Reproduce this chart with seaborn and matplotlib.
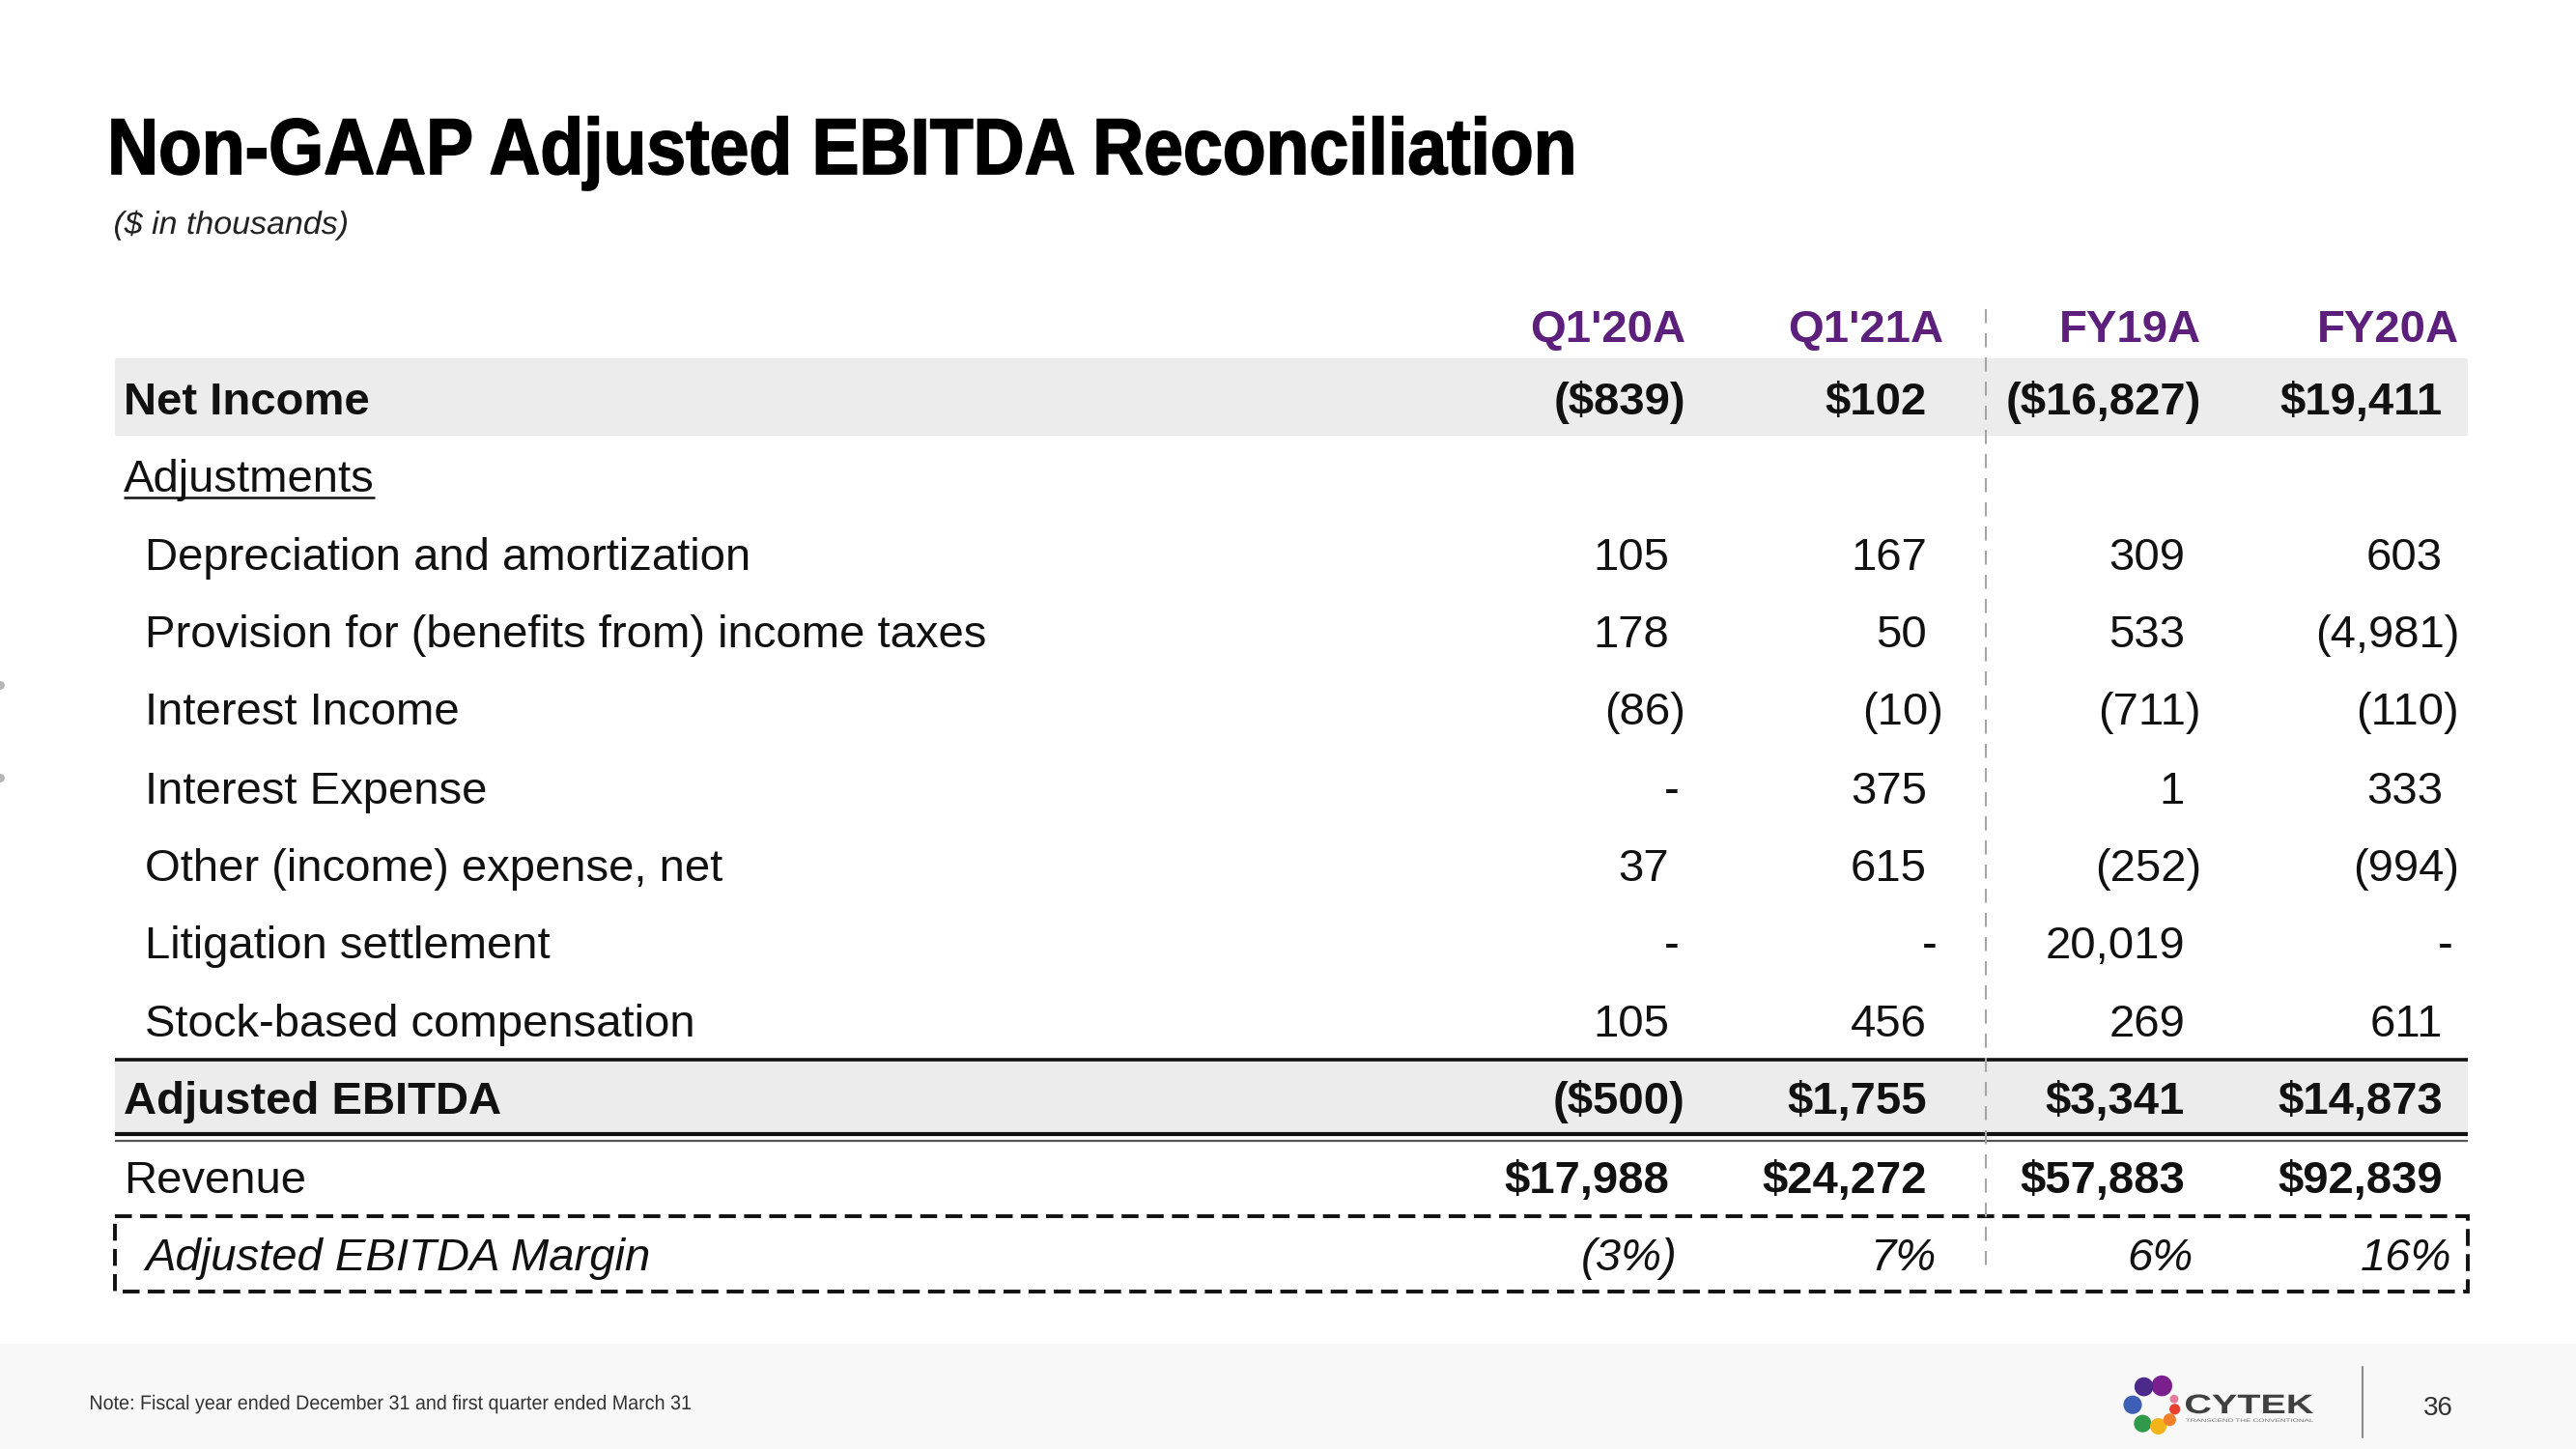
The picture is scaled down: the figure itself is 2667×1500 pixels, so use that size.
import math
import matplotlib
matplotlib.use("Agg")
import matplotlib.pyplot as plt
import seaborn as sns
from matplotlib.patches import Rectangle, PathPatch
from matplotlib.textpath import TextPath
from matplotlib.font_manager import FontProperties
from matplotlib.transforms import Affine2D

# ---- data ($ in thousands) ----
columns = ["Q1'20A", "Q1'21A", "FY19A", "FY20A"]
net_income = [-839, 102, -16827, 19411]
depreciation = [105, 167, 309, 603]
tax_provision = [178, 50, 533, -4981]
interest_income = [-86, -10, -711, -110]
interest_expense = [0, 375, 1, 333]
other_expense = [37, 615, -252, -994]
litigation = [0, 0, 20019, 0]
stock_comp = [105, 456, 269, 611]
adj_ebitda = [-500, 1755, 3341, 14873]
revenue = [17988, 24272, 57883, 92839]
margin_pct = [-3, 7, 6, 16]

adjust_labels = ["Depreciation and amortization",
                 "Provision for (benefits from) income taxes",
                 "Interest Income", "Interest Expense",
                 "Other (income) expense, net", "Litigation settlement",
                 "Stock-based compensation"]
adjust_values = [depreciation, tax_provision, interest_income, interest_expense,
                 other_expense, litigation, stock_comp]

# logo dots (colour, angle round the ring, size)
logo_colors = ["#7b1f8f", "#4b2a8c", "#3d5fb5", "#2f9a4a", "#f2b31b",
               "#f0812a", "#e8402f", "#e87a9a"]
logo_angles = [68, 118, 178, 238, 282, 318, 350, 18]
logo_sizes = [240, 200, 190, 170, 150, 90, 65, 40]

sns.set_theme(style="white")
plt.rcParams["font.family"] = ["Liberation Sans", "DejaVu Sans"]

W, H = 2667, 1500
fig = plt.figure(figsize=(W / 100, H / 100), dpi=100)
ax = fig.add_axes([0, 0, 1, 1])
ax.set_xlim(0, W)
ax.set_ylim(H, 0)
ax.axis("off")


def acct(v, dollar=False):
    if v == 0:
        return "-"
    s = ("$" if dollar else "") + f"{abs(v):,}"
    return f"({s})" if v < 0 else s


def squeezed(s, x, base, em, width, weight="normal", style="normal", color="black", stroke=0):
    # draw text as a path, stretched horizontally to the target width
    fp = FontProperties(family="Liberation Sans", weight=weight, style=style)
    tp = TextPath((0, 0), s, size=em, prop=fp)
    ext = tp.get_extents()
    sx = width / ext.width
    tr = Affine2D().translate(-ext.x0, 0).scale(sx, -1).translate(x, base) + ax.transData
    ax.add_patch(PathPatch(tp, transform=tr, fc=color, ec=color, lw=stroke))


col_right = [1745, 2012, 2279, 2546]
FS = 34
left, right = 119, 2555
PURPLE = "#5c1f7b"
BAND = "#ececec"
INK = "#111111"

# title
squeezed("Non-GAAP Adjusted EBITDA Reconciliation", 116, 180, 82, 1512, weight="bold", stroke=1.2)
squeezed("($ in thousands)", 119, 242, 33, 240, style="italic", color="#222222")

# shaded bands
ax.add_patch(Rectangle((left, 371), right - left, 80, color=BAND, lw=0))
ax.add_patch(Rectangle((left, 1098), right - left, 75, color=BAND, lw=0))

row_y = {"head": 337, "ni": 412, "adj": 492, "ebitda": 1136, "rev": 1218, "margin": 1298}
adj_rows_y = [573, 653, 733, 815, 895, 975, 1056]


def put_value(s, col, yc, bold=False, italic=False, shift=None):
    if shift is None:
        shift = 0 if s.endswith(")") else (6 if s == "-" else 17)
    ax.text(col_right[col] - shift, yc + 17, s, ha="right", va="baseline",
            fontsize=FS, fontweight="bold" if bold else "normal",
            fontstyle="italic" if italic else "normal", color=INK)


# header
for i, c in enumerate(columns):
    ax.text(col_right[i], row_y["head"] + 17, c, ha="right", va="baseline",
            fontsize=FS, fontweight="bold", color=PURPLE)

# net income
ax.text(128, row_y["ni"] + 17, "Net Income", fontsize=FS, fontweight="bold", va="baseline", color=INK)
for i, v in enumerate(net_income):
    put_value(acct(v, True), i, row_y["ni"], bold=True)

# adjustments
t = ax.text(128, row_y["adj"] + 17, "Adjustments", fontsize=FS, va="baseline", color=INK)
fig.canvas.draw()
bb = t.get_window_extent().transformed(ax.transData.inverted())
ax.plot([128, bb.x1], [row_y["adj"] + 23, row_y["adj"] + 23], color=INK, lw=1.8,
        solid_capstyle="butt")

for lab, vals, yc in zip(adjust_labels, adjust_values, adj_rows_y):
    ax.text(150, yc + 17, lab, fontsize=FS, va="baseline", color=INK)
    for i, v in enumerate(vals):
        put_value(acct(v), i, yc)

# adjusted EBITDA
ax.plot([left, right], [1097, 1097], color=INK, lw=2.6, solid_capstyle="butt")
ax.text(128, row_y["ebitda"] + 17, "Adjusted EBITDA", fontsize=FS, fontweight="bold", va="baseline", color=INK)
for i, v in enumerate(adj_ebitda):
    put_value(acct(v, True), i, row_y["ebitda"], bold=True)
ax.plot([left, right], [1174, 1174], color=INK, lw=3.0, solid_capstyle="butt")
ax.plot([left, right], [1181, 1181], color="#555555", lw=1.6, solid_capstyle="butt")

# revenue
ax.text(128, row_y["rev"] + 17, "Revenue", fontsize=FS, va="baseline", color=INK)
for i, v in enumerate(revenue):
    put_value(acct(v, True), i, row_y["rev"], bold=True)

# margin (dashed box)
ax.add_patch(Rectangle((left, 1259), right - left, 78, fill=False, ec=INK,
                       lw=2.8, ls=(0, (4.5, 2.2))))
ax.text(150, row_y["margin"] + 17, "Adjusted EBITDA Margin", fontsize=FS,
        fontstyle="italic", va="baseline", color=INK)
for i, v in enumerate(margin_pct):
    s = f"({abs(v)}%)" if v < 0 else f"{v}%"
    put_value(s, i, row_y["margin"], italic=True, shift=8)

# separator between quarterly and annual columns
ax.plot([2056, 2056], [320, 1320], color="#a6a6a6", lw=1.5, ls=(0, (7, 5)))

# footer
ax.add_patch(Rectangle((0, 1391), W, H - 1391, color="#f8f8f8", lw=0))
squeezed("Note: Fiscal year ended December 31 and first quarter ended March 31",
         94, 1459, 21, 621, color="#333333")
sns.scatterplot(x=[2230 + 22 * math.cos(math.radians(a)) for a in logo_angles],
                y=[1455 - 22 * math.sin(math.radians(a)) for a in logo_angles],
                hue=list(range(len(logo_colors))), palette=logo_colors, size=logo_sizes,
                sizes=(min(logo_sizes), max(logo_sizes)), legend=False, ax=ax,
                linewidth=0, zorder=5)
squeezed("CYTEK", 2263, 1463, 28, 132, weight="bold", color="#404040")
squeezed("TRANSCEND THE CONVENTIONAL", 2263, 1472, 5, 132, color="#777777")
ax.plot([2446, 2446], [1415, 1488], color="#8a8a8a", lw=1.5)
ax.text(2524, 1458, "36", fontsize=20, ha="center", va="center", color="#333333")

# faint marks on the left edge
ax.scatter([0, 0], [709, 805], s=40, color="#b5b5b5", lw=0)

fig.savefig("out.png", dpi=100)
